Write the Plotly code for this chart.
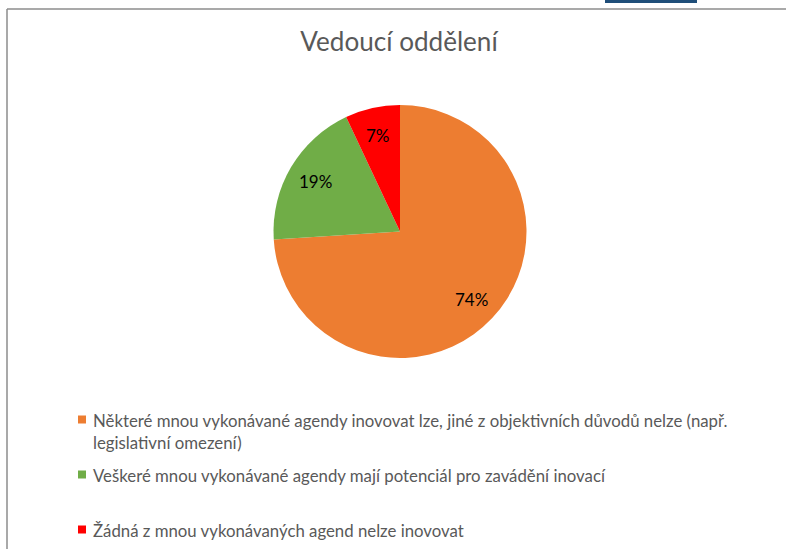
import math
import plotly.graph_objects as go

title = "Vedoucí oddělení"
categories = [
    "Některé mnou vykonávané agendy inovovat lze, jiné z objektivních důvodů nelze (např.<br>legislativní omezení)",
    "Veškeré mnou vykonávané agendy mají potenciál pro zavádění inovací",
    "Žádná z mnou vykonávaných agend nelze inovovat",
]
values = [74, 19, 7]
colors = ["#ED7D31", "#70AD47", "#FF0000"]

W, H = 786, 549
CX, CY, R = 400, 231.5, 126.5          # pie centre / radius in pixels
FONT = "Lato"
GREY = "#595959"

fig = go.Figure()
fig.add_trace(go.Pie(
    labels=[c.replace("<br>", " ") for c in categories],
    values=values,
    sort=False,
    direction="clockwise",
    rotation=0,
    marker=dict(colors=colors, line=dict(color="white", width=0)),
    textinfo="none",
    domain=dict(x=[(CX - R) / W, (CX + R) / W], y=[1 - (CY + R) / H, 1 - (CY - R) / H]),
    hoverinfo="label+percent",
    showlegend=False,
))

annotations = []
# data labels: placed along each slice's mid-angle (Excel "best fit" style)
total = sum(values)
cum = 0.0
for v in values:
    mid = (cum + v / 2) / total * 2 * math.pi
    cum += v
    rr = 0.78 * R
    px = CX + rr * math.sin(mid)
    py = CY - rr * math.cos(mid)
    annotations.append(dict(
        text=f"{round(v / total * 100)}%", x=px / W, y=1 - py / H,
        xref="paper", yref="paper", xanchor="center", yanchor="middle",
        showarrow=False, borderpad=0,
        font=dict(family=FONT, size=17, color="#000000"),
    ))

# legend (Excel-like layout at the bottom)
LEG_FS = 16.8
leg_first_line_y = [419.5, 474.5, 529.5]
shapes = []
for cat, col, yc in zip(categories, colors, leg_first_line_y):
    shapes.append(dict(type="rect", xref="paper", yref="paper",
                       x0=78 / W, x1=86 / W, y0=1 - (yc + 4) / H, y1=1 - (yc - 4) / H,
                       fillcolor=col, line=dict(width=0)))
    annotations.append(dict(
        text=cat, x=92 / W, y=1 - (yc - 1.3 * LEG_FS / 2) / H,
        xref="paper", yref="paper", xanchor="left", yanchor="top", align="left",
        showarrow=False, borderpad=0,
        font=dict(family=FONT, size=LEG_FS, color=GREY),
    ))

shapes += [
    dict(type="line", xref="paper", yref="paper", x0=7 / W, x1=1, y0=1 - 9 / H, y1=1 - 9 / H,
         line=dict(color="#8C8C8C", width=1.5)),
    dict(type="line", xref="paper", yref="paper", x0=7 / W, x1=7 / W, y0=0, y1=1 - 9 / H,
         line=dict(color="#8C8C8C", width=1.5)),
    dict(type="rect", xref="paper", yref="paper", x0=605 / W, x1=697 / W, y0=1 - 3 / H, y1=1,
         fillcolor="#1F4E79", line=dict(width=0)),
]

fig.update_layout(
    width=W, height=H,
    margin=dict(l=0, r=0, t=0, b=0),
    paper_bgcolor="white",
    plot_bgcolor="white",
    title=dict(text=title, x=399 / W, xanchor="center", y=1 - 42 / H, yanchor="middle",
               font=dict(family=FONT, size=26.1, color=GREY)),
    showlegend=False,
    annotations=annotations,
    shapes=shapes,
)

fig.write_html("out.html", config={"displayModeBar": False},
               post_script="document.body.style.margin='0';")
